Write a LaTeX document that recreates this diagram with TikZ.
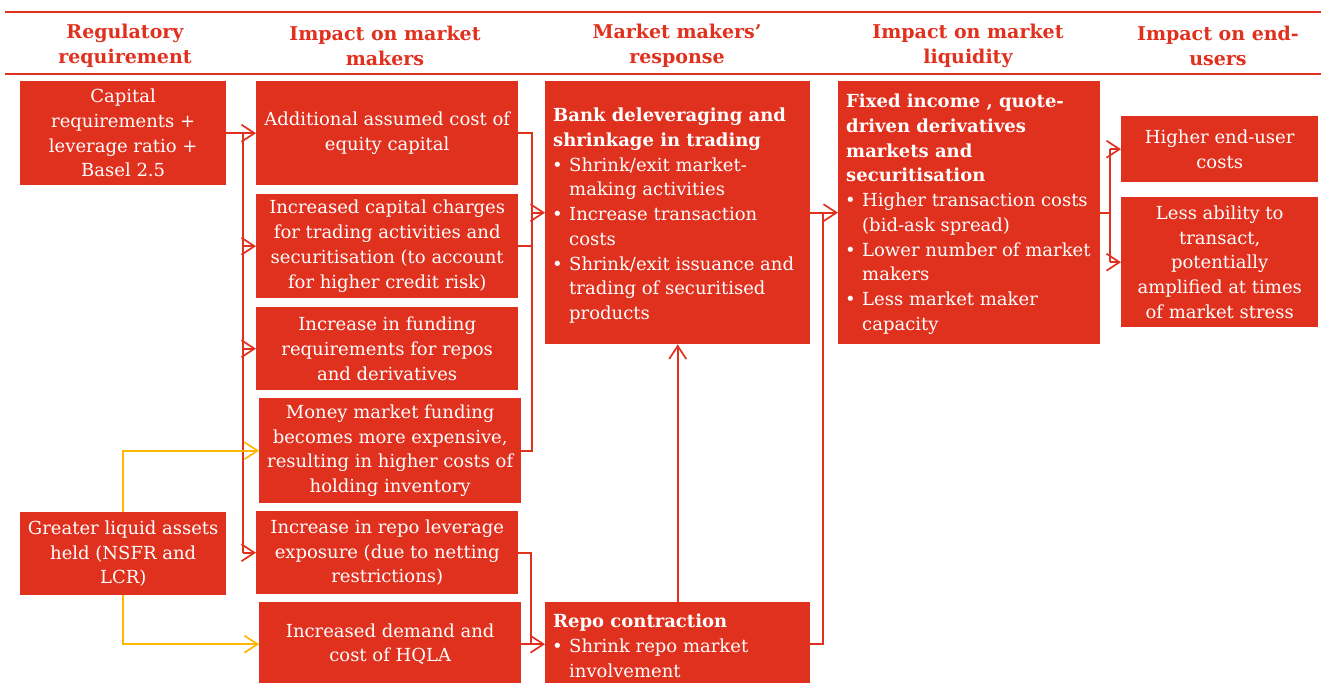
\documentclass[tikz,border=0pt]{standalone}
\usepackage{fontspec}
\setmainfont{DejaVu Serif}
\usetikzlibrary{arrows.meta}
\definecolor{pwcred}{HTML}{E0301E}
\definecolor{pwcyel}{HTML}{FFB600}
\newcommand\bodyfont{\fontsize{18}{24.7}\selectfont}
\newcommand\hdrfont{\bfseries\fontsize{19}{25}\selectfont}
\newcommand\bul{\makebox[16pt][l]{\hspace{-1pt}•}}
\newcommand\ind{\hspace*{16pt}}
\begin{document}
\begin{tikzpicture}[x=1pt,y=-1pt,
  box/.style={fill=pwcred, text=white, inner sep=0pt, anchor=north west, align=center, font=\bodyfont},
  txt/.style={text=white, inner sep=0pt, anchor=north west, align=left, font=\bodyfont},
  hdr/.style={text=pwcred, font=\hdrfont, align=center, inner sep=0pt},
  ln/.style={draw=pwcred, line width=1.7pt},
  arr/.style={ln, -{Straight Barb[length=13pt,width=17pt,line width=1.7pt]}},
  yln/.style={draw=pwcyel, line width=1.7pt},
  yarr/.style={yln, -{Straight Barb[length=13pt,width=17pt,line width=1.7pt]}}
]
\useasboundingbox (0,0) rectangle (1321,682);
% header
\draw[pwcred, line width=2pt] (5,12) -- (1321,12);
\draw[pwcred, line width=2pt] (5,74) -- (1321,74);
\node[hdr] (h1) at (125,46) {Regulatory\\requirement};
\node[hdr] (h2) at (385,46) {Impact on market\\makers};
\node[hdr] (h3) at (677,46) {Market makers’\\response};
\node[hdr] (h4) at (968,46) {Impact on market\\liquidity};
\node[hdr] (h5) at (1218,46) {Impact on end-\\users};
% column 1
\node[box, minimum width=206pt, minimum height=104pt] (a) at (20,81) {Capital\\requirements +\\leverage ratio +\\Basel 2.5};
\node[box, minimum width=206pt, minimum height=83pt] (g) at (20,512) {Greater liquid assets\\held (NSFR and\\LCR)};
% column 2
\node[box, minimum width=262pt, minimum height=104pt] (b1) at (256,81) {Additional assumed cost of\\equity capital};
\node[box, minimum width=262pt, minimum height=104pt] (b2) at (256,194) {Increased capital charges\\for trading activities and\\securitisation (to account\\for higher credit risk)};
\node[box, minimum width=262pt, minimum height=83pt] (b3) at (256,307) {Increase in funding\\requirements for repos\\and derivatives};
\node[box, minimum width=262pt, minimum height=105pt] (b4) at (259,398) {Money market funding\\becomes more expensive,\\resulting in higher costs of\\holding inventory};
\node[box, minimum width=262pt, minimum height=83pt] (b5) at (256,511) {Increase in repo leverage\\exposure (due to netting\\restrictions)};
\node[box, minimum width=262pt, minimum height=84pt] (b6) at (259,602) {Increased demand and\\cost of HQLA};
% column 3
\node[box, minimum width=265pt, minimum height=263pt] (c1) at (545,81) {};
\node[txt] (c1t) at ([xshift=8pt,yshift=-27pt]c1.north west) {\textbf{Bank deleveraging and}\\\textbf{shrinkage in trading}\\\bul Shrink/exit market-\\\ind making activities\\\bul Increase transaction\\\ind costs\\\bul Shrink/exit issuance and\\\ind trading of securitised\\\ind products};
\node[box, minimum width=265pt, minimum height=84pt] (c2) at (545,602) {};
\node[txt] (c2t) at ([xshift=8pt,yshift=-12pt]c2.north west) {\textbf{Repo contraction}\\\bul Shrink repo market\\\ind involvement};
% column 4
\node[box, minimum width=262pt, minimum height=263pt] (d) at (838,81) {};
\node[txt] (dt) at ([xshift=8pt,yshift=-13pt]d.north west) {\textbf{Fixed income , quote-}\\\textbf{driven derivatives}\\\textbf{markets and}\\\textbf{securitisation}\\\bul Higher transaction costs\\\ind (bid-ask spread)\\\bul Lower number of market\\\ind makers\\\bul Less market maker\\\ind capacity};
% column 5
\node[box, minimum width=197pt, minimum height=66pt] (e1) at (1121,116) {Higher end-user\\costs};
\node[box, minimum width=197pt, minimum height=130pt] (e2) at (1121,197) {Less ability to\\transact,\\potentially\\amplified at times\\of market stress};
% trunks
\coordinate (t1) at (243,0);
\coordinate (t3) at (532,0);
\coordinate (t4) at (531,0);
\coordinate (t5) at (823,0);
\coordinate (t6) at (1110,0);
% left trunk
\draw[ln] (a.east) -- (a.east -| t1) -- (b5.west -| t1);
\draw[arr] (b1.west -| t1) -- (b1.west);
\draw[arr] (b2.west -| t1) -- (b2.west);
\draw[arr] (b3.west -| t1) -- (b3.west);
\draw[arr] (b5.west -| t1) -- (b5.west);
% yellow
\draw[yarr] (g.north) |- (b4.west);
\draw[yarr] (g.south) |- (b6.west);
% column 2 to C1
\draw[ln] (b1.east) -- (b1.east -| t3) -- (b4.east -| t3) -- (b4.east);
\draw[ln] (b2.east) -- (b2.east -| t3);
\draw[arr] (c1.west -| t3) -- (c1.west);
% column 2 to C2
\draw[ln] (b5.east) -- (b5.east -| t4) -- (c2.west -| t4);
\draw[arr] (b6.east) -- (c2.west);
% C2 to C1
\draw[arr] (c2.north) -- (c1.south);
% to D
\draw[ln] (c2.east) -- (c2.east -| t5) -- (d.west -| t5);
\draw[arr] (c1.east) -- (d.west);
% to E
\draw[ln] (d.east) -- (d.east -| t6);
\draw[ln] (e1.west -| t6) -- (e2.west -| t6);
\draw[arr] (e1.west -| t6) -- (e1.west);
\draw[arr] (e2.west -| t6) -- (e2.west);
\end{tikzpicture}
\end{document}
